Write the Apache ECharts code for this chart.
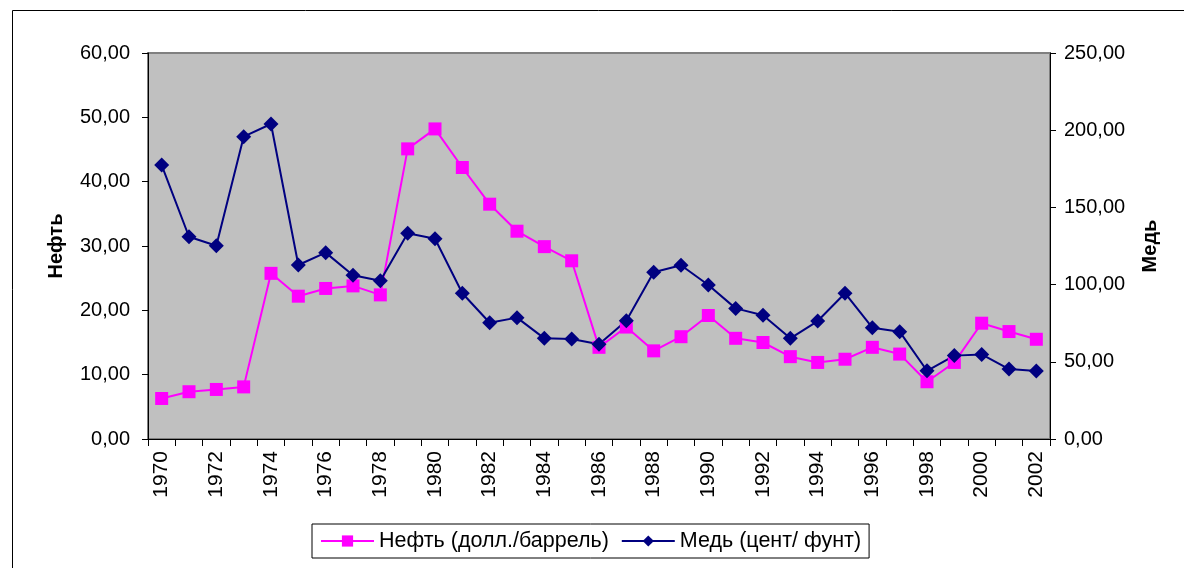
<!DOCTYPE html>
<html><head><meta charset="utf-8">
<script src="https://cdn.jsdelivr.net/npm/echarts@6/dist/echarts.min.js"></script>
<style>html,body{margin:0;padding:0;background:#fff}#c{width:1184px;height:568px}</style>
</head><body><div id="c"></div>
<script>
const years = ['1970','1971','1972','1973','1974','1975','1976','1977','1978','1979','1980','1981','1982','1983','1984','1985','1986','1987','1988','1989','1990','1991','1992','1993','1994','1995','1996','1997','1998','1999','2000','2001','2002'];
const oil = [6.3,7.35,7.7,8.1,25.75,22.2,23.4,23.8,22.4,45.1,48.2,42.2,36.5,32.3,29.9,27.7,14.25,17.4,13.7,15.9,19.2,15.65,15.0,12.8,11.9,12.4,14.25,13.2,8.9,11.9,18.0,16.7,15.5];
const copper = [177.4,131.0,125.2,195.8,204.0,112.7,120.7,106.0,102.5,133.2,129.7,94.4,75.3,78.6,65.2,64.8,61.3,76.6,108.0,112.5,99.7,84.6,80.1,65.2,76.4,94.4,72.1,69.5,44.2,54.0,54.8,45.3,44.0];
const oilName = 'Нефть (долл./баррель)';
const copperName = 'Медь (цент/ фунт)';
const fmt = v => v.toFixed(2).replace('.', ',');
const font = 'Liberation Sans, Arial, sans-serif';
const chart = echarts.init(document.getElementById('c'));
chart.setOption({
  animation: false,
  textStyle: {fontFamily: font},
  graphic: [{type:'rect', shape:{x:12.5,y:10.5,width:1180,height:570}, style:{fill:null, stroke:'#000', lineWidth:1}, silent:true}],
  grid: {left:148, right:134, top:53, bottom:129, show:true, backgroundColor:'#C0C0C0', borderColor:'#808080', borderWidth:2},
  legend: {
    left: 312, top: 524, orient:'horizontal',
    borderColor:'#000', borderWidth:1, padding:[6,8,6,8],
    itemWidth: 53, itemHeight: 14, itemGap: 12,
    textStyle:{fontSize:21.5, color:'#000', fontFamily:font},
    data:[oilName, copperName]
  },
  xAxis: {
    type:'category', data: years, boundaryGap:true,
    axisLine:{lineStyle:{color:'#000', width:1}},
    axisTick:{show:true, length:7, lineStyle:{color:'#000'}, interval:0},
    axisLabel:{rotate:90, interval:1, fontSize:21, color:'#000', fontFamily:font, margin:12}
  },
  yAxis: [{
    type:'value', min:0, max:60, interval:10, position:'left',
    name:'Нефть', nameLocation:'middle', nameGap:82, nameRotate:90,
    nameTextStyle:{fontSize:20, fontWeight:'bold', color:'#000', fontFamily:font},
    axisLine:{show:true, lineStyle:{color:'#000'}},
    axisTick:{show:true, length:6, lineStyle:{color:'#000'}},
    splitLine:{show:false},
    axisLabel:{formatter:fmt, fontSize:20, color:'#000', fontFamily:font, margin:18}
  },{
    type:'value', min:0, max:250, interval:50, position:'right',
    name:'Медь', nameLocation:'middle', nameGap:90, nameRotate:90,
    nameTextStyle:{fontSize:20, fontWeight:'bold', color:'#000', fontFamily:font},
    axisLine:{show:true, lineStyle:{color:'#000'}},
    axisTick:{show:true, length:6, lineStyle:{color:'#000'}},
    splitLine:{show:false},
    axisLabel:{formatter:fmt, fontSize:20, color:'#000', fontFamily:font, margin:14}
  }],
  series: [{
    name: oilName, type:'line', yAxisIndex:0, data: oil,
    symbol:'rect', symbolSize:13, showAllSymbol:true,
    lineStyle:{color:'#FF00FF', width:2}, itemStyle:{color:'#FF00FF'}
  },{
    name: copperName, type:'line', yAxisIndex:1, data: copper,
    symbol:'diamond', symbolSize:15, showAllSymbol:true,
    lineStyle:{color:'#000080', width:2}, itemStyle:{color:'#000080'}
  }]
});
</script></body></html>
